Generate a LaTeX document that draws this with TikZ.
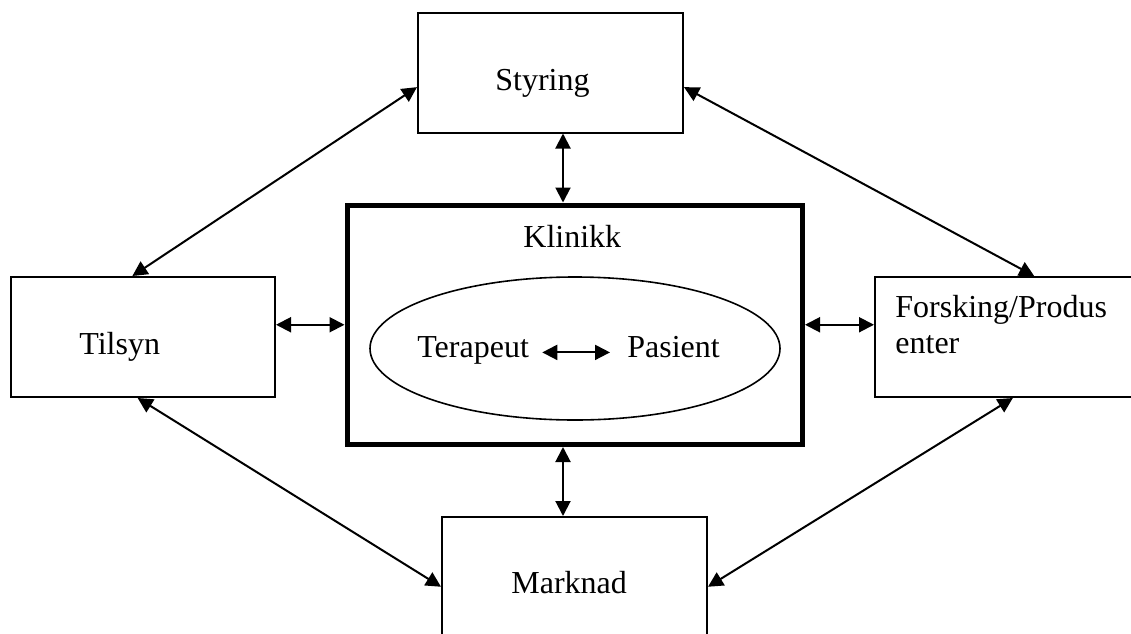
\documentclass[tikz,border=0pt]{standalone}
\usepackage{fontspec}
\setmainfont{Liberation Serif}
\usetikzlibrary{shapes.geometric, arrows.meta, calc}

\tikzset{
  box/.style={draw, line width=1pt, minimum width=132.5pt, minimum height=60pt},
  lbl/.style={anchor=base west, inner sep=0pt, font=\fontsize{16}{18}\selectfont},
  both/.style={line width=1pt, {Triangle[length=7.5pt,width=7.5pt]}-{Triangle[length=7.5pt,width=7.5pt]}}
}

\begin{document}
\begin{tikzpicture}[x=0.5pt, y=-0.5pt]
  \useasboundingbox (0,0) rectangle (1131,633);

  % outer boxes
  \node[box] (styring) at (550.5, 72.5) {};
  \node[box, minimum width=132pt] (tilsyn) at (143, 337) {};
  \node[box] (forsking) at (1007.5, 337) {};
  \node[box] (marknad) at (574.5, 577) {};

  % clinic with the inner ellipse
  \node[draw, line width=2.5pt, minimum width=227.75pt, minimum height=119.75pt] (klinikk) at (574.75, 324.75) {};
  \node[draw, ellipse, line width=0.8pt, minimum width=205pt, minimum height=71.5pt] (relasjon) at (575, 348.5) {};

  % texts
  \node[lbl] (tstyring) at (495, 90) {Styring};
  \node[lbl] (ttilsyn) at (79, 354) {Tilsyn};
  \node[lbl, align=left] (tforsking) at (895, 353) {Forsking/Produs\\enter};
  \node[lbl] (tmarknad) at (511, 593) {Marknad};
  \node[lbl] (tklinikk) at (523, 247) {Klinikk};
  \node[lbl] (terapeut) at (417, 357) {Terapeut};
  \node[lbl] (pasient) at (627, 357) {Pasient};

  \coordinate (midx) at (563, 0);

  % connectors
  \draw[both] (styring.south -| midx) -- (klinikk.north -| midx);
  \draw[both] (klinikk.south -| midx) -- (marknad.north -| midx);
  \draw[both] (tilsyn.east |- klinikk.west) -- (klinikk.west);
  \draw[both] (klinikk.east) -- (klinikk.east -| forsking.west);
  \draw[both, shorten <=6.5pt, shorten >=8.5pt] (terapeut.mid east) -- (pasient.mid west);

  \draw[both] ($(styring.north west)!0.62!(styring.south west)$) -- ($(tilsyn.north west)!0.46!(tilsyn.north east)$);
  \draw[both] ($(tilsyn.south west)!0.48!(tilsyn.south east)$) -- ($(marknad.north west)!0.58!(marknad.south west)$);
  \draw[both] ($(styring.north east)!0.62!(styring.south east)$) -- ($(forsking.north west)!0.6!(forsking.north east)$);
  \draw[both] ($(forsking.south west)!0.52!(forsking.south east)$) -- ($(marknad.north east)!0.58!(marknad.south east)$);
\end{tikzpicture}
\end{document}
